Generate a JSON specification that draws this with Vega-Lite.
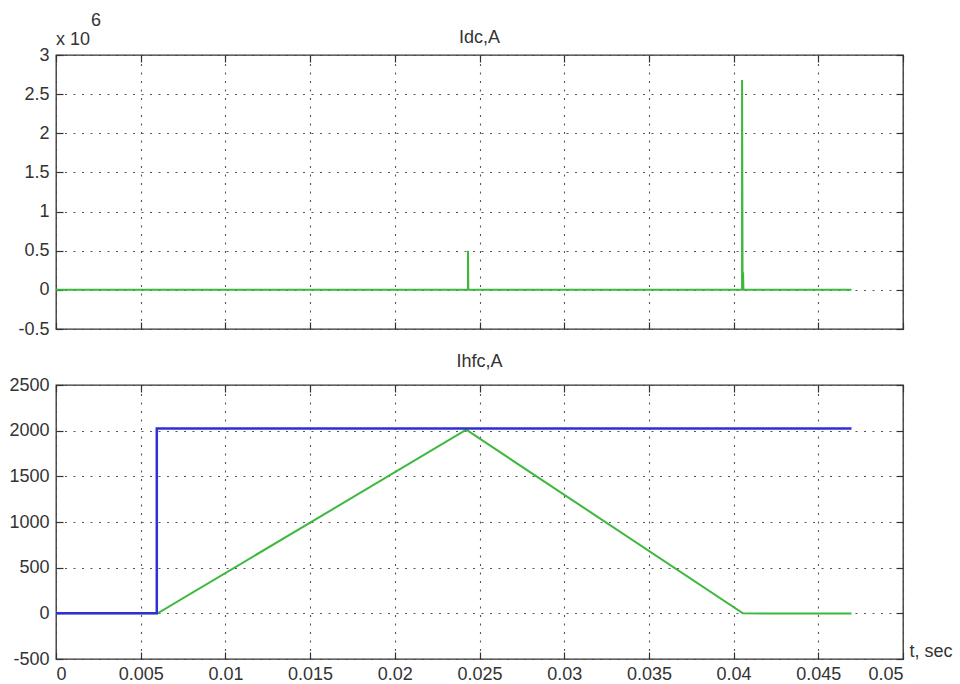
{
  "$schema": "https://vega.github.io/schema/vega-lite/v6.json",
  "background": "white",
  "padding": {"left": 8, "top": 11, "right": 0, "bottom": 0},
  "spacing": 13,
  "datasets": {
    "idc": [
      {"t": 0, "v": 0},
      {"t": 0.02432, "v": 0},
      {"t": 0.02432, "v": 0.5},
      {"t": 0.02434, "v": 0},
      {"t": 0.0405, "v": 0},
      {"t": 0.0405, "v": 2.68},
      {"t": 0.04053, "v": 0},
      {"t": 0.04056, "v": 0},
      {"t": 0.04056, "v": 0.22},
      {"t": 0.04058, "v": 0},
      {"t": 0.04696, "v": 0}
    ],
    "ihfc": [
      {"s": "meas", "t": 0, "v": 0},
      {"s": "meas", "t": 0.006, "v": 0},
      {"s": "meas", "t": 0.02422, "v": 2010},
      {"s": "meas", "t": 0.04055, "v": 0},
      {"s": "meas", "t": 0.04696, "v": -3},
      {"s": "ref", "t": 0, "v": 0},
      {"s": "ref", "t": 0.00595, "v": 0},
      {"s": "ref", "t": 0.00595, "v": 2025},
      {"s": "ref", "t": 0.04696, "v": 2025}
    ]
  },
  "config": {
    "font": "Liberation Sans",
    "view": {"stroke": "#333", "strokeWidth": 1.3},
    "axis": {
      "domain": false,
      "labelFont": "Liberation Sans",
      "labelFontSize": 18,
      "labelColor": "#333",
      "tickColor": "#333",
      "tickSize": -7,
      "tickWidth": 1.2,
      "gridColor": "#444",
      "gridDash": [2, 6.5],
      "gridWidth": 1.1,
      "gridOpacity": 0.9,
      "titleFont": "Liberation Sans",
      "titleFontSize": 18,
      "titleFontWeight": "normal",
      "titleColor": "#333"
    },
    "title": {"font": "Liberation Sans", "fontSize": 18, "fontWeight": "normal", "color": "#333", "anchor": "middle", "offset": 10}
  },
  "vconcat": [
    {
      "width": 847,
      "height": 274,
      "title": {"text": "Idc,A", "offset": -35},
      "resolve": {"axis": {"x": "independent", "y": "independent"}},
      "layer": [
        {
          "data": {"name": "idc"},
          "mark": {"type": "line", "color": "#3cb83c", "strokeWidth": 2},
          "encoding": {
            "x": {"field": "t", "type": "quantitative", "scale": {"domain": [0, 0.05], "nice": false, "zero": false},
              "axis": {"orient": "bottom", "values": [0, 0.005, 0.01, 0.015, 0.02, 0.025, 0.03, 0.035, 0.04, 0.045, 0.05], "labels": false, "title": null, "grid": true}},
            "y": {"field": "v", "type": "quantitative", "scale": {"domain": [-0.5, 3], "nice": false, "zero": false},
              "axis": {"orient": "left", "values": [-0.5, 0, 0.5, 1, 1.5, 2, 2.5, 3], "format": "~g", "labelExpr": "replace(datum.label, '\u2212', '-')", "labelPadding": 14, "title": null, "grid": true}}
          }
        },
        {
          "data": {"name": "idc"},
          "mark": {"type": "line", "opacity": 0},
          "encoding": {
            "x": {"field": "t", "type": "quantitative", "scale": {"domain": [0, 0.05], "nice": false, "zero": false}, "axis": {"orient": "top", "values": [0, 0.005, 0.01, 0.015, 0.02, 0.025, 0.03, 0.035, 0.04, 0.045, 0.05], "labels": false, "title": null, "grid": false}},
            "y": {"field": "v", "type": "quantitative", "scale": {"domain": [-0.5, 3], "nice": false, "zero": false}, "axis": {"orient": "right", "values": [-0.5, 0, 0.5, 1, 1.5, 2, 2.5, 3], "labels": false, "title": null, "grid": false}}
          }
        },
        {
          "data": {"values": [{}]},
          "mark": {"type": "text", "text": "x 10", "align": "left", "baseline": "middle", "dx": 0, "dy": -15, "fontSize": 18, "color": "#333"},
          "encoding": {
            "x": {"datum": 0, "type": "quantitative", "axis": null},
            "y": {"datum": 3, "type": "quantitative", "axis": null}
          }
        },
        {
          "data": {"values": [{}]},
          "mark": {"type": "text", "text": "6", "align": "left", "baseline": "middle", "dx": 35, "dy": -34, "fontSize": 18, "color": "#333"},
          "encoding": {
            "x": {"datum": 0, "type": "quantitative", "axis": null},
            "y": {"datum": 3, "type": "quantitative", "axis": null}
          }
        }
      ]
    },
    {
      "width": 847,
      "height": 274,
      "title": {"text": "Ihfc,A", "offset": 5},
      "resolve": {"axis": {"x": "independent", "y": "independent"}},
      "layer": [
        {
          "data": {"name": "ihfc"},
          "transform": [{"filter": "datum.s === 'meas'"}],
          "mark": {"type": "line", "color": "#3cb83c", "strokeWidth": 2},
          "encoding": {
            "x": {"field": "t", "type": "quantitative", "scale": {"domain": [0, 0.05], "nice": false, "zero": false},
              "axis": {"orient": "bottom", "values": [0, 0.005, 0.01, 0.015, 0.02, 0.025, 0.03, 0.035, 0.04, 0.045, 0.05], "format": "~g", "labelPadding": 13, "grid": true,
                "title": "t, sec", "titleX": 853, "titleY": -8, "titleAlign": "left", "titleBaseline": "middle", "titleAngle": 0}},
            "y": {"field": "v", "type": "quantitative", "scale": {"domain": [-500, 2500], "nice": false, "zero": false},
              "axis": {"orient": "left", "values": [-500, 0, 500, 1000, 1500, 2000, 2500], "format": "d", "labelExpr": "replace(datum.label, '\u2212', '-')", "labelPadding": 14, "title": null, "grid": true}}
          }
        },
        {
          "data": {"name": "ihfc"},
          "transform": [{"filter": "datum.s === 'ref'"}],
          "mark": {"type": "line", "color": "#2f2fd8", "strokeWidth": 2.5},
          "encoding": {
            "x": {"field": "t", "type": "quantitative", "scale": {"domain": [0, 0.05], "nice": false, "zero": false}, "axis": {"orient": "top", "values": [0, 0.005, 0.01, 0.015, 0.02, 0.025, 0.03, 0.035, 0.04, 0.045, 0.05], "labels": false, "title": null, "grid": false}},
            "y": {"field": "v", "type": "quantitative", "scale": {"domain": [-500, 2500], "nice": false, "zero": false}, "axis": {"orient": "right", "values": [-500, 0, 500, 1000, 1500, 2000, 2500], "labels": false, "title": null, "grid": false}}
          }
        }
      ]
    }
  ]
}
